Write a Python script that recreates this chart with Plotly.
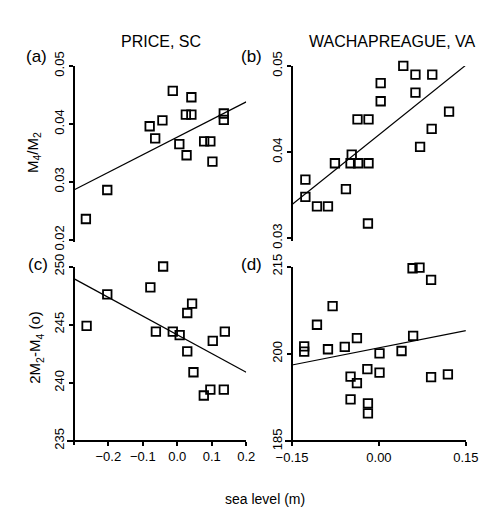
import plotly.graph_objects as go

# ---------------- data ----------------
# (a) PRICE, SC  M4/M2 vs sea level
a_x = [-0.265, -0.203, -0.080, -0.064, -0.043, -0.013, 0.006, 0.027, 0.025, 0.041,
       0.041, 0.078, 0.096, 0.102, 0.135, 0.135]
a_y = [0.0236, 0.0286, 0.0396, 0.0375, 0.0406, 0.0457, 0.0365, 0.0346, 0.0416, 0.0416,
       0.0446, 0.0370, 0.0370, 0.0335, 0.0418, 0.0407]
fit_a_x = [-0.3, 0.2]
fit_a_y = [0.0286, 0.0438]

# (b) WACHAPREAGUE, VA  M4/M2 vs sea level
b_x = [-0.127, -0.127, -0.107, -0.088, -0.076, -0.057, -0.047, -0.049, -0.036, -0.037,
       -0.018, -0.018, -0.019, 0.003, 0.003, 0.042, 0.063, 0.063, 0.092, 0.071, 0.091, 0.121]
b_y = [0.0368, 0.0348, 0.0337, 0.0337, 0.0387, 0.0357, 0.0397, 0.0387, 0.0387, 0.0438,
       0.0438, 0.0387, 0.0317, 0.0480, 0.0459, 0.0500, 0.0490, 0.0469, 0.0490, 0.0406,
       0.0427, 0.0447]
fit_b_x = [-0.15, 0.15]
fit_b_y = [0.0339, 0.0501]

# (c) PRICE, SC  2M2-M4 phase vs sea level
c_x = [-0.263, -0.203, -0.078, -0.041, -0.062, -0.013, 0.007, 0.029, 0.043, 0.029,
       0.047, 0.077, 0.096, 0.103, 0.135, 0.138]
c_y = [244.9, 247.6, 248.2, 250.0, 244.4, 244.4, 244.1, 246.0, 246.8, 242.7,
       240.9, 238.9, 239.4, 243.6, 239.4, 244.4]
fit_c_x = [-0.3, 0.2]
fit_c_y = [248.96, 240.9]

# (d) WACHAPREAGUE, VA  2M2-M4 phase vs sea level
d_x = [-0.129, -0.129, -0.107, -0.088, -0.080, -0.059, -0.038, -0.049, -0.038, -0.049,
       -0.020, -0.019, -0.019, 0.001, 0.001, 0.039, 0.059, 0.058, 0.070, 0.090, 0.090, 0.119]
d_y = [201.3, 200.4, 205.0, 200.8, 208.2, 201.2, 202.7, 196.1, 195.0, 192.2,
       197.4, 191.5, 189.8, 200.1, 196.8, 200.5, 203.1, 214.7, 214.8, 212.7, 196.0, 196.5]
fit_d_x = [-0.15, 0.15]
fit_d_y = [198.1, 204.0]

left_xticks = [-0.2, -0.1, 0.0, 0.1, 0.2]
right_xticks = [-0.15, 0.0, 0.15]
a_yticks = [0.02, 0.03, 0.04, 0.05]
b_yticks = [0.03, 0.04, 0.05]
c_yticks = [235, 240, 245, 250]
d_yticks = [185, 200, 215]

site_titles = ["PRICE, SC", "WACHAPREAGUE, VA"]
panel_labels = ["(a)", "(b)", "(c)", "(d)"]

# ---------------- layout helpers ----------------
W, H = 489, 511
FONT = "Liberation Sans, Arial, Helvetica, sans-serif"


def px(x):
    return x / W


def py(y):
    return 1 - y / H


fig = go.Figure()

panels = [
    (a_x, a_y, fit_a_x, fit_a_y, "x", "y"),
    (b_x, b_y, fit_b_x, fit_b_y, "x2", "y2"),
    (c_x, c_y, fit_c_x, fit_c_y, "x3", "y3"),
    (d_x, d_y, fit_d_x, fit_d_y, "x4", "y4"),
]
for xs, ys, fx, fy, xa, ya in panels:
    fig.add_trace(go.Scatter(
        x=fx, y=fy, mode="lines", xaxis=xa, yaxis=ya,
        line=dict(color="black", width=1.2), hoverinfo="skip"))
    fig.add_trace(go.Scatter(
        x=xs, y=ys, mode="markers", xaxis=xa, yaxis=ya, cliponaxis=False,
        marker=dict(symbol="square-open", size=8.5, color="black",
                    line=dict(width=1.8, color="black"))))

axis_common = dict(
    showline=True, linecolor="black", linewidth=1.7,
    ticks="outside", ticklen=4, tickwidth=1.7, tickcolor="black",
    showgrid=False, zeroline=False,
    tickfont=dict(family=FONT, size=13, color="black"),
)

fig.update_layout(
    width=W, height=H,
    margin=dict(l=0, r=0, t=0, b=0),
    paper_bgcolor="white", plot_bgcolor="white",
    showlegend=False,
    # (a)
    xaxis=dict(domain=[px(59.5), px(240)], range=[-0.3, 0.2], visible=False, anchor="y"),
    yaxis=dict(domain=[py(229.5), py(45)], range=[0.0196, 0.05], anchor="free",
               position=px(60), tickvals=a_yticks, tickformat=".2f", tickangle=-90,
               **axis_common),
    # (b)
    xaxis2=dict(domain=[px(288), px(470)], range=[-0.15, 0.15], visible=False, anchor="y2"),
    yaxis2=dict(domain=[py(228), py(45)], range=[0.0297, 0.05], anchor="free",
                position=px(288), tickvals=b_yticks, tickformat=".2f", tickangle=-90,
                **axis_common),
    # (c)
    xaxis3=dict(domain=[px(52), px(240)], range=[-0.3 - 7.5 / 360, 0.2], anchor="free",
                position=py(437.5), tickvals=left_xticks, tickformat=".1f", **axis_common),
    yaxis3=dict(domain=[py(442), py(255)], range=[235 - 4.5 / 12.17, 250], anchor="free",
                position=px(59.5), tickvals=c_yticks, tickangle=-90, **axis_common),
    # (d)
    xaxis4=dict(domain=[px(281), px(470)], range=[-0.15 - 7 / 606.7, 0.15], anchor="free",
                position=py(438), tickvals=right_xticks, tickformat=".2f", **axis_common),
    yaxis4=dict(domain=[py(442.5), py(255)], range=[185 - 4.5 / 6.1, 215], anchor="free",
                position=px(288), tickvals=d_yticks, tickangle=-90, **axis_common),
)

ann = []
# site titles
ann.append(dict(x=px(151), y=py(19), text=site_titles[0],
                font=dict(family=FONT, size=16, color="black")))
ann.append(dict(x=px(393), y=py(19), text=site_titles[1],
                font=dict(family=FONT, size=16, color="black")))
# panel letters
for lab, (x, y) in zip(panel_labels, [(20, 35), (246, 35), (22, 253), (246, 253)]):
    ann.append(dict(x=px(x), y=py(y), text=lab,
                    font=dict(family=FONT, size=17, color="black")))
# y-axis titles
ann.append(dict(x=px(18), y=py(136), text="M<sub>4</sub>/M<sub>2</sub>", textangle=-90,
                font=dict(family=FONT, size=15, color="black")))
ann.append(dict(x=px(20), y=py(340), text="2M<sub>2</sub>-M<sub>4</sub> (o)", textangle=-90,
                font=dict(family=FONT, size=15, color="black")))
# x-axis title
ann.append(dict(x=px(260), y=py(498), text="sea level (m)",
                font=dict(family=FONT, size=14, color="black")))

for a in ann:
    a.update(xref="paper", yref="paper", showarrow=False, xanchor="center", yanchor="middle")
fig.update_layout(annotations=ann)

fig.write_html("out.html")
